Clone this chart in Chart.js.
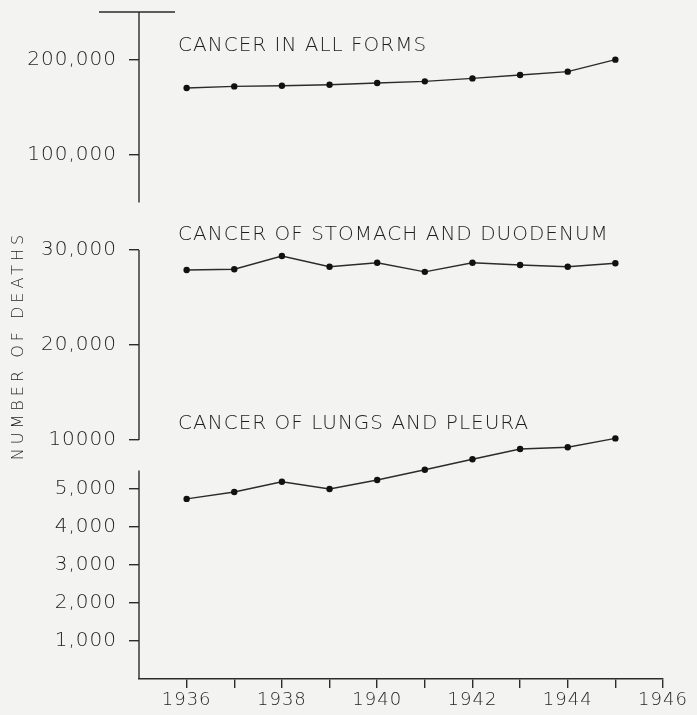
<!DOCTYPE html>
<html>
<head>
<meta charset="utf-8">
<script src="https://cdn.jsdelivr.net/npm/chart.js@4.4.1/dist/chart.umd.min.js"></script>
<style>
    html, body { margin: 0; padding: 0; background: #f3f3f1; }
    canvas { display: block; }
</style>
</head>
<body>
<canvas id="deathsChart" width="697" height="715"></canvas>
<script>
// Data
const years = [1936, 1937, 1938, 1939, 1940, 1941, 1942, 1943, 1944, 1945];
const allForms = [170200, 171900, 172600, 173700, 175500, 177200, 180300, 183900, 187400, 200000];
const stomach = [27900, 27970, 29370, 28240, 28660, 27700, 28660, 28420, 28240, 28600];
const lungs = [4740, 4920, 5740, 5000, 5920, 6970, 8030, 9080, 9260, 10170];
const seriesTitles = ['CANCER IN ALL FORMS', 'CANCER OF STOMACH AND DUODENUM', 'CANCER OF LUNGS AND PLEURA'];

const xTicks = [1936, 1937, 1938, 1939, 1940, 1941, 1942, 1943, 1944, 1945, 1946];
const yTicks = [1000, 2000, 3000, 4000, 5000, 10000, 20000, 30000, 100000, 200000];
const yTickLabels = ['1,000', '2,000', '3,000', '4,000', '5,000', '10000', '20,000', '30,000', '100,000', '200,000'];

const ink = '#2b2b2b';
Chart.defaults.font.family = "'DejaVu Sans', 'Liberation Sans', sans-serif";
Chart.defaults.font.weight = 200;
Chart.defaults.color = '#1e1e1e';

// Linear scale with breaks: value knots mapped onto share of the axis height
class BrokenScale extends Chart.LinearScale {
    toDecimal(v) {
        const k = this.options.knots;
        const full = k[k.length - 1][1];
        let i = 1;
        while (i < k.length - 1 && v > k[i][0]) i++;
        const [v0, p0] = k[i - 1];
        const [v1, p1] = k[i];
        return (p0 + (v - v0) / (v1 - v0) * (p1 - p0)) / full;
    }
    fromDecimal(d) {
        const k = this.options.knots;
        const full = k[k.length - 1][1];
        const p = d * full;
        let i = 1;
        while (i < k.length - 1 && p > k[i][1]) i++;
        const [v0, p0] = k[i - 1];
        const [v1, p1] = k[i];
        return v0 + (p - p0) / (p1 - p0) * (v1 - v0);
    }
    getPixelForValue(value) {
        return value === null ? NaN : this.getPixelForDecimal(this.toDecimal(value));
    }
    getValueForPixel(pixel) {
        return this.fromDecimal(this.getDecimalForPixel(pixel));
    }
    drawTitle() {
        // hand lettered axis title is widely spaced
        const prev = this.ctx.letterSpacing;
        this.ctx.letterSpacing = '4px';
        super.drawTitle();
        this.ctx.letterSpacing = prev;
    }
}
BrokenScale.id = 'broken';
BrokenScale.defaults = Chart.LinearScale.defaults;
Chart.register(BrokenScale);

// Broken axis segments, the cap on top and the series titles
const handDrawn = {
    id: 'handDrawn',
    beforeUpdate(chart) { chart.ctx.letterSpacing = '1px'; },
    beforeDraw(chart) { chart.ctx.letterSpacing = '1px'; },
    afterDraw(chart, args, opts) {
        const { ctx } = chart;
        const x = chart.scales.x;
        const y = chart.scales.y;
        ctx.save();
        ctx.strokeStyle = ink;
        ctx.lineWidth = 1.4;
        ctx.beginPath();
        opts.spans.forEach(([a, b]) => {
            ctx.moveTo(x.left, y.getPixelForValue(a));
            ctx.lineTo(x.left, y.getPixelForValue(b));
        });
        const topPx = y.getPixelForValue(y.max);
        ctx.moveTo(x.left - 40, topPx);
        ctx.lineTo(x.left + 36, topPx);
        ctx.stroke();

        ctx.fillStyle = '#1e1e1e';
        ctx.font = "200 20px 'DejaVu Sans', 'Liberation Sans', sans-serif";
        ctx.textAlign = 'left';
        ctx.textBaseline = 'middle';
        opts.titles.forEach((t, i) => {
            ctx.fillText(seriesTitles[i], x.getPixelForValue(t[0]), y.getPixelForValue(t[1]));
        });
        ctx.restore();
    }
};

const lineStyle = {
    borderColor: ink,
    borderWidth: 1.4,
    pointRadius: 3.2,
    pointBackgroundColor: '#111',
    pointBorderWidth: 0,
    tension: 0,
    yAxisID: 'y'
};

new Chart(document.getElementById('deathsChart'), {
    type: 'line',
    data: {
        datasets: [
            { ...lineStyle, label: seriesTitles[0], data: years.map((yr, i) => ({ x: yr, y: allForms[i] })) },
            { ...lineStyle, label: seriesTitles[1], data: years.map((yr, i) => ({ x: yr, y: stomach[i] })) },
            { ...lineStyle, label: seriesTitles[2], data: years.map((yr, i) => ({ x: yr, y: lungs[i] })) }
        ]
    },
    options: {
        responsive: false,
        animation: false,
        layout: { padding: { top: 12, right: 34, bottom: 0, left: 0 } },
        plugins: {
            legend: { display: false },
            tooltip: { enabled: false },
            handDrawn: {
                spans: [[0, 6900], [10000, 30000], [50000, 250000]],
                titles: [[1935.82, 215000], [1935.82, 36300], [1935.82, 11700]]
            }
        },
        scales: {
            x: {
                type: 'linear',
                min: 1935,
                max: 1946,
                afterBuildTicks: axis => { axis.ticks = xTicks.map(v => ({ value: v })); },
                afterFit: axis => { axis.height = 36; },
                ticks: {
                    autoSkip: false,
                    maxRotation: 0,
                    padding: 2,
                    font: { size: 18 },
                    callback: v => (v % 2 === 0 ? String(v) : '')
                },
                grid: { drawOnChartArea: false, drawTicks: true, tickLength: 9, color: ink, lineWidth: 1.4 },
                border: { display: true, color: ink, width: 1.4 }
            },
            y: {
                type: 'broken',
                min: 0,
                max: 250000,
                knots: [[0, 0], [5000, 190], [10000, 239], [30000, 429], [50000, 476.5], [250000, 667]],
                afterBuildTicks: axis => { axis.ticks = yTicks.map(v => ({ value: v })); },
                afterFit: axis => {
                    axis.width = 139;
                    axis.paddingTop = 0;
                    axis.paddingBottom = 0;
                },
                ticks: {
                    autoSkip: false,
                    padding: 12,
                    font: { size: 20 },
                    callback: (v, i) => yTickLabels[i]
                },
                grid: { drawOnChartArea: false, drawTicks: true, tickLength: 10, color: ink, lineWidth: 1.4 },
                border: { display: false },
                title: {
                    display: true,
                    text: 'NUMBER OF DEATHS',
                    font: { size: 16 },
                    padding: { top: 9, bottom: 0 }
                }
            }
        }
    },
    plugins: [handDrawn]
});
</script>
</body>
</html>
